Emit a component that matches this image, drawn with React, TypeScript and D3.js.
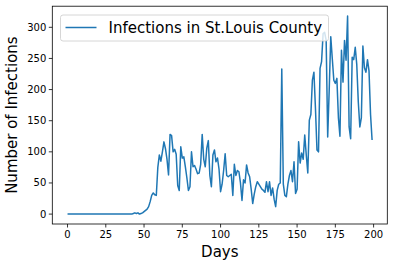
import React from 'react';
import { scaleLinear, line } from 'd3';

// daily new infections, day 0 .. 199
const infections = [
  0, 0, 0, 0, 0, 0, 0, 0, 0, 0,
  0, 0, 0, 0, 0, 0, 0, 0, 0, 0,
  0, 0, 0, 0, 0, 0, 0, 0, 0, 0,
  0, 0, 0, 0, 0, 0, 0, 0, 0, 0,
  0, 0, 0, 1, 2, 1, 2, 0, 1, 2,
  4, 6, 8, 12, 20, 30, 34, 31, 30, 75,
  95, 85, 100, 116, 105, 88, 63, 128, 126, 100,
  104, 96, 46, 38, 108, 90, 92, 76, 58, 38,
  44, 100, 76, 78, 72, 65, 66, 80, 128, 88,
  76, 106, 118, 62, 44, 95, 103, 84, 90, 72,
  36, 48, 70, 97, 62, 60, 62, 64, 30, 80,
  62, 70, 68, 50, 22, 55, 50, 79, 66, 60,
  40, 17, 32, 44, 52, 48, 44, 40, 38, 35,
  52, 36, 52, 30, 42, 24, 12, 38, 48, 50,
  233, 48, 30, 28, 48, 62, 70, 52, 84, 33,
  40, 116, 82, 98, 88, 127, 95, 66, 151, 160,
  215, 228, 170, 103, 100, 234, 245, 290, 292, 279,
  124, 200, 285, 250, 215, 210, 218, 155, 125, 263,
  212, 279, 247, 318, 140, 121, 252, 248, 268, 240,
  180, 140, 155, 270, 235, 228, 248, 230, 160, 119,
];
const xTicks = [0, 25, 50, 75, 100, 125, 150, 175, 200];
const yTicks = [0, 50, 100, 150, 200, 250, 300];
const legendLabel = 'Infections in St.Louis County';

const W = 394;
const H = 267;
const m = { left: 52.3, right: 387.3, top: 6.2, bottom: 224 };
const font = 'DejaVu Sans, sans-serif';

export default function App() {
  const x = scaleLinear().domain([-9.95, 208.95]).range([m.left, m.right]);
  const y = scaleLinear().domain([-15.9, 333.9]).range([m.bottom, m.top]);
  const path = line<number>()
    .x((d, i) => x(i))
    .y(d => y(d))(infections);

  return (
    <svg
      width={W}
      height={H}
      style={{ position: 'absolute', left: 0, top: 0, background: '#fff' }}
      fontFamily={font}
    >
      <path d={path || ''} fill="none" stroke="#1f77b4" strokeWidth={1.5} strokeLinejoin="round" />

      {/* axes frame */}
      <rect
        x={m.left}
        y={m.top}
        width={m.right - m.left}
        height={m.bottom - m.top}
        fill="none"
        stroke="#000"
        strokeWidth={0.8}
      />

      {xTicks.map(t => (
        <g key={'x' + t} transform={`translate(${x(t)},${m.bottom})`}>
          <line y2={3.5} stroke="#000" strokeWidth={0.8} />
          <text y={14} textAnchor="middle" fontSize={10} fill="#000">{t}</text>
        </g>
      ))}
      {yTicks.map(t => (
        <g key={'y' + t} transform={`translate(${m.left},${y(t)})`}>
          <line x2={-3.5} stroke="#000" strokeWidth={0.8} />
          <text x={-6} dy="0.35em" textAnchor="end" fontSize={10} fill="#000">{t}</text>
        </g>
      ))}

      <text x={(m.left + m.right) / 2} y={257} textAnchor="middle" fontSize={15} fill="#000">Days</text>
      <text
        transform={`translate(17,${(m.top + m.bottom) / 2}) rotate(-90)`}
        textAnchor="middle"
        fontSize={15}
        fill="#000"
      >
        Number of Infections
      </text>

      {/* legend */}
      <rect x={60.5} y={15} width={268} height={26} rx={2.5} fill="#fff" fillOpacity={0.8} stroke="#ccc" strokeWidth={0.8} />
      <line x1={65.5} x2={96.5} y1={27.5} y2={27.5} stroke="#1f77b4" strokeWidth={1.5} />
      <text x={108.5} y={33} fontSize={15} fill="#000">{legendLabel}</text>
    </svg>
  );
}
